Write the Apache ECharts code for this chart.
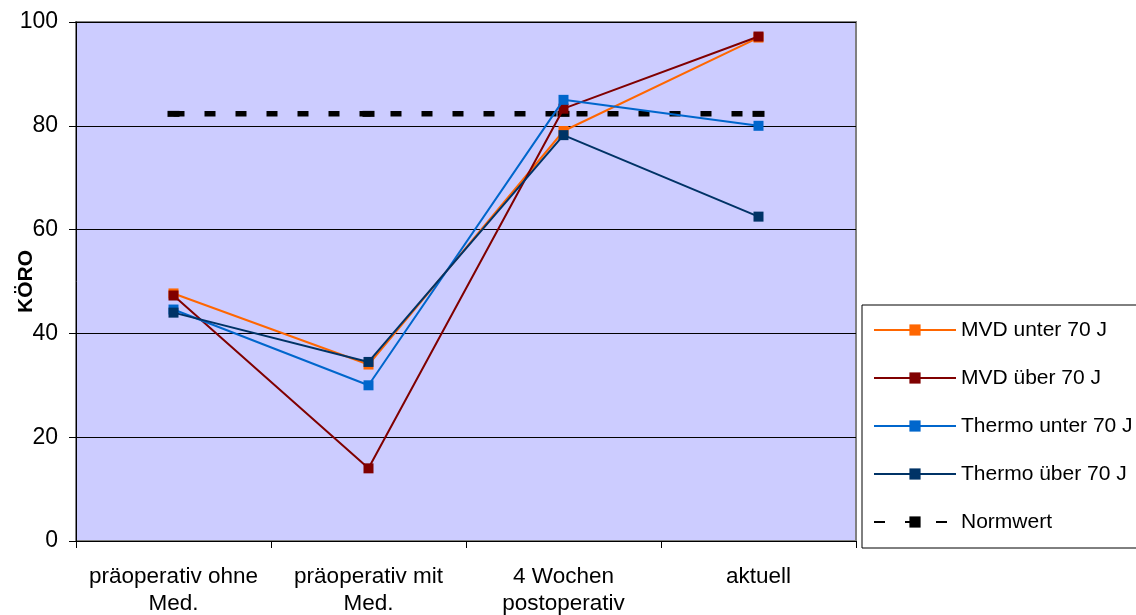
<!DOCTYPE html>
<html>
<head>
<meta charset="utf-8">
<script src="https://cdn.jsdelivr.net/npm/echarts@6/dist/echarts.min.js"></script>
<style>
  html, body { margin: 0; padding: 0; background: #ffffff; }
  #chart { width: 1136px; height: 615px; }
</style>
</head>
<body>
<div id="chart"></div>
<script>
// KÖRO scores per time point and group
const categories = ['präoperativ ohne\nMed.', 'präoperativ mit\nMed.', '4 Wochen\npostoperativ', 'aktuell'];
const mvdUnter70 = [47.7, 34.0, 79.0, 97.0];
const mvdUeber70 = [47.3, 14.0, 83.3, 97.2];
const thermoUnter70 = [44.6, 30.0, 85.0, 80.0];
const thermoUeber70 = [44.0, 34.5, 78.2, 62.5];
const normwert = [82.3, 82.3, 82.3, 82.3];
const yTicks = [0, 20, 40, 60, 80, 100];

const font = 'Liberation Sans, Arial, sans-serif';

function lineSeries(name, data, color, z) {
  return {
    name: name,
    type: 'line',
    data: data,
    z: z,
    symbol: 'rect',
    symbolSize: 10,
    showSymbol: true,
    lineStyle: { color: color, width: 2 },
    itemStyle: { color: color, borderWidth: 0 },
    emphasis: { disabled: true }
  };
}

const chart = echarts.init(document.getElementById('chart'), null, { renderer: 'canvas' });

chart.setOption({
  animation: false,
  backgroundColor: '#ffffff',
  textStyle: { fontFamily: font, color: '#000' },
  grid: {
    left: 76, right: 280, top: 22, bottom: 74,
    containLabel: false,
    outerBoundsMode: 'none',
    show: true,
    backgroundColor: '#CCCCFF',
    borderColor: '#808080',
    borderWidth: 2
  },
  legend: {
    orient: 'vertical',
    left: 862,
    top: 305,
    padding: [13, 30, 14, 11],
    itemWidth: 82,
    itemHeight: 14,
    itemGap: 24,
    borderColor: '#000',
    borderWidth: 1,
    textStyle: { fontFamily: font, fontSize: 21, color: '#000', lineHeight: 24 },
    data: ['MVD unter 70 J', 'MVD über 70 J', 'Thermo unter 70 J', 'Thermo über 70 J', 'Normwert']
  },
  xAxis: {
    type: 'category',
    data: categories,
    boundaryGap: true,
    axisLine: { show: true, lineStyle: { color: '#000', width: 1 } },
    axisTick: { show: true, length: 7, inside: false, lineStyle: { color: '#000' } },
    axisLabel: {
      fontFamily: font, fontSize: 22.5, color: '#000',
      lineHeight: 27, margin: 22, interval: 0
    },
    splitLine: { show: false }
  },
  yAxis: {
    type: 'value',
    min: yTicks[0],
    max: yTicks[yTicks.length - 1],
    interval: 20,
    name: 'KÖRO',
    nameLocation: 'middle',
    nameGap: 39,
    nameMoveOverlap: false,
    nameRotate: 90,
    nameTextStyle: { fontFamily: font, fontSize: 21, fontWeight: 'bold', color: '#000' },
    axisLine: { show: true, lineStyle: { color: '#000', width: 1 } },
    axisTick: { show: true, length: 7, inside: false, lineStyle: { color: '#000' } },
    axisLabel: { fontFamily: font, fontSize: 23, color: '#000', margin: 18 },
    splitLine: { show: true, lineStyle: { color: '#000', width: 1 } }
  },
  series: [
    {
      name: 'Normwert',
      type: 'line',
      data: normwert,
      z: 1,
      symbol: 'rect',
      symbolSize: [12, 6],
      lineStyle: { color: '#000', width: 5.5, type: [11, 20] },
      itemStyle: { color: '#000' },
      emphasis: { disabled: true }
    },
    lineSeries('MVD unter 70 J', mvdUnter70, '#FF6600', 2),
    lineSeries('MVD über 70 J', mvdUeber70, '#800000', 3),
    lineSeries('Thermo unter 70 J', thermoUnter70, '#0066CC', 4),
    lineSeries('Thermo über 70 J', thermoUeber70, '#003366', 5)
  ]
});
</script>
</body>
</html>
